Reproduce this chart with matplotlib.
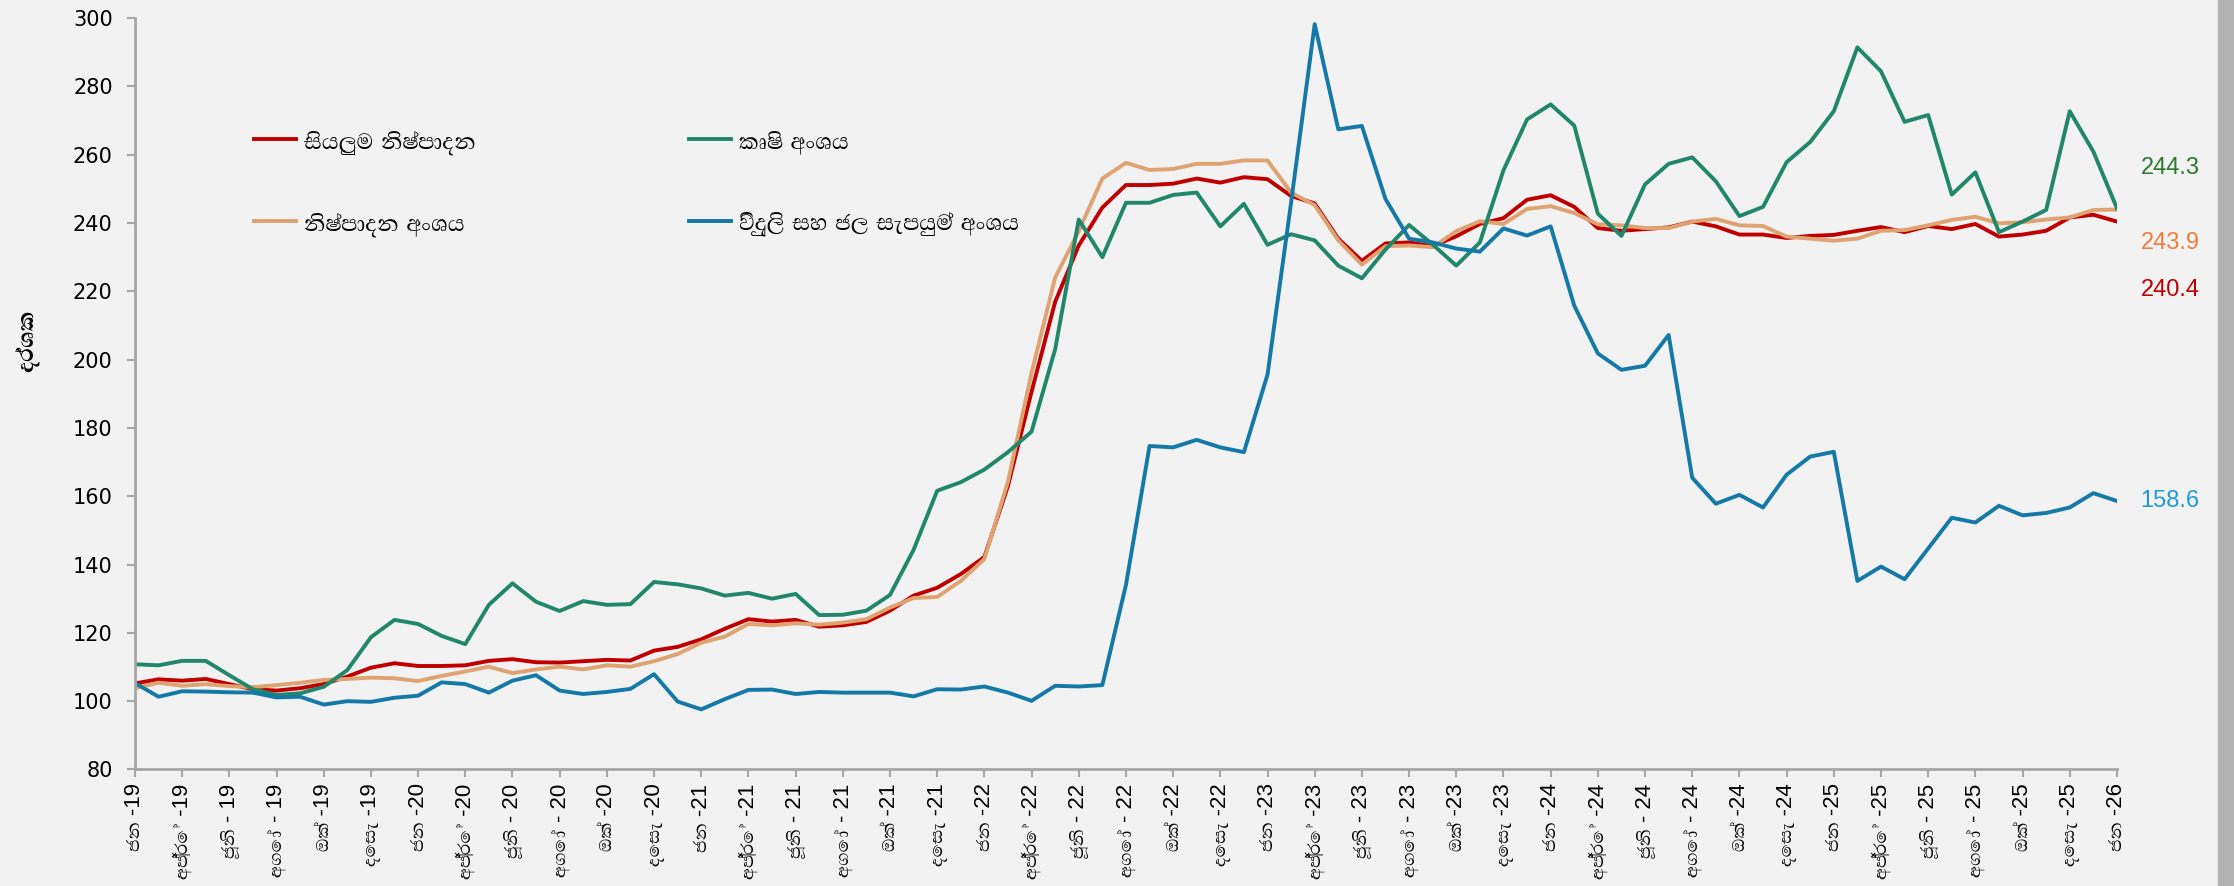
import numpy as np
import matplotlib
matplotlib.use('Agg')
import matplotlib.pyplot as plt
import matplotlib.font_manager as fm
from matplotlib.ft2font import FT2Font

# monthly index values, Jan-2019 .. Jan-2026
all_sectors = [105.2, 106.4, 106.0, 106.5, 105.0, 103.5, 103.1, 103.8, 105.0, 107.2, 109.8, 111.1,
               110.3, 110.3, 110.5, 111.8, 112.3, 111.4, 111.3, 111.7, 112.1, 111.9, 114.8, 115.9,
               118.1, 121.2, 124.0, 123.3, 123.8, 121.8, 122.2, 123.2, 126.5, 130.9, 133.2, 137.2,
               142.2, 163.0, 190.6, 216.9, 233.4, 244.5, 251.1, 251.1, 251.5, 253.0, 251.8, 253.4,
               252.8, 247.9, 245.7, 235.4, 228.9, 234.0, 234.3, 233.2, 236.1, 239.7, 241.4, 246.8,
               248.1, 244.7, 238.5, 237.7, 238.2, 238.7, 240.4, 239.0, 236.6, 236.6, 235.6, 236.2,
               236.5, 237.7, 238.8, 237.3, 239.1, 238.2, 239.7, 236.0, 236.6, 237.7, 241.6, 242.4,
               240.4]
manufacturing = [103.8, 105.4, 104.5, 105.0, 104.4, 104.1, 104.7, 105.4, 106.2, 106.5, 106.9, 106.7,
                 105.9, 107.4, 108.7, 110.1, 108.2, 109.3, 110.1, 109.3, 110.5, 110.1, 111.7, 113.8,
                 117.1, 118.9, 122.6, 122.2, 122.8, 122.4, 123.0, 124.0, 127.4, 130.2, 130.5, 135.2,
                 141.6, 164.3, 196.1, 224.0, 237.6, 253.0, 257.6, 255.5, 255.8, 257.3, 257.3, 258.3,
                 258.3, 248.9, 245.2, 234.9, 227.8, 233.2, 233.4, 232.9, 237.6, 240.5, 239.7, 244.1,
                 244.9, 242.9, 239.6, 239.3, 238.5, 238.5, 240.4, 241.2, 239.3, 239.1, 236.0, 235.4,
                 234.8, 235.4, 237.7, 237.9, 239.3, 240.9, 241.8, 239.9, 240.2, 241.0, 241.6, 243.8,
                 243.9]
agriculture = [110.8, 110.5, 111.8, 111.8, 107.6, 103.5, 101.8, 102.3, 104.2, 109.1, 118.7, 123.8,
               122.6, 119.1, 116.7, 128.2, 134.5, 129.1, 126.4, 129.3, 128.2, 128.4, 134.9, 134.2,
               133.0, 130.9, 131.7, 130.0, 131.4, 125.2, 125.3, 126.5, 131.1, 144.3, 161.6, 164.1,
               167.8, 172.9, 178.9, 203.0, 241.0, 230.0, 245.9, 245.9, 248.2, 248.9, 239.0, 245.6,
               233.6, 236.7, 234.9, 227.5, 223.8, 232.2, 239.4, 233.7, 227.5, 234.3, 255.4, 270.3,
               274.7, 268.5, 242.7, 236.2, 251.3, 257.3, 259.2, 252.2, 242.0, 244.7, 257.8, 263.7,
               272.7, 291.4, 284.4, 269.6, 271.6, 248.3, 254.8, 237.3, 240.4, 243.8, 272.7, 260.9,
               244.3]
electricity_water = [105.3, 101.3, 102.9, 102.8, 102.6, 102.5, 101.1, 101.3, 99.0, 100.0, 99.8, 101.0,
                     101.6, 105.5, 105.0, 102.5, 106.0, 107.6, 103.1, 102.1, 102.7, 103.6, 107.9, 99.9,
                     97.6, 100.6, 103.3, 103.4, 102.1, 102.7, 102.5, 102.5, 102.5, 101.4, 103.5, 103.4,
                     104.3, 102.5, 100.1, 104.5, 104.3, 104.7, 134.0, 174.7, 174.3, 176.5, 174.3, 172.9,
                     195.6, 246.0, 298.2, 267.4, 268.4, 247.0, 235.4, 234.3, 232.5, 231.6, 238.4, 236.3,
                     239.0, 215.8, 201.8, 197.0, 198.2, 207.2, 165.4, 157.8, 160.4, 156.7, 166.3, 171.6,
                     173.0, 135.2, 139.4, 135.7, 144.7, 153.7, 152.3, 157.2, 154.4, 155.1, 156.7, 160.9,
                     158.6]

series_names = ['සියලුම නිෂ්පාදන', 'නිෂ්පාදන අංශය', 'කෘෂි අංශය', 'විදුලි සහ ජල සැපයුම් අංශය']
line_colors = ['#c00000', '#dfa271', '#21876a', '#1479a6']
end_colors = ['#c00000', '#ef7d3c', '#2b7a2e', '#1d9bd7']
end_offsets = [-49, -24, 29, 0]   # points, keeps the end labels apart

tick_months = ['ජන', 'අප්\u200dරේ', 'ජූනි', 'අගෝ', 'ඔක්', 'දෙසැ']
tick_seps = [' -', ' -', ' - ', ' - ', ' -', ' -']
tick_years = ['19', '20', '21', '22', '23', '24', '25', '26']

# pick an installed font that has Sinhala glyphs
sinhala = set()
for f in fm.fontManager.ttflist:
    try:
        if 0x0DA2 in FT2Font(f.fname).get_charmap():
            sinhala.add(f.name)
    except Exception:
        pass
si_font = None
for name in ['Iskoola Pota', 'Abhaya Libre', 'Noto Serif Sinhala', 'Noto Sans Sinhala']:
    if name in sinhala:
        si_font = name
        break
if si_font is None and sinhala:
    si_font = sorted(sinhala)[0]
families = ['Liberation Sans'] + ([si_font] if si_font else []) + ['DejaVu Sans']
plt.rcParams['font.family'] = families

bg = '#f2f2f2'
axis_grey = '#a6a6a6'

fig = plt.figure(figsize=(22.34, 8.86), dpi=100, facecolor=bg)
ax = fig.add_axes([0.0604, 0.1315, 0.8872, 0.8482], facecolor=bg)

x = np.arange(len(all_sectors))
data = [all_sectors, manufacturing, agriculture, electricity_water]
for vals, name, col in zip(data, series_names, line_colors):
    ax.plot(x, vals, color=col, lw=2.8, label=name)

for vals, col, dy in zip(data, end_colors, end_offsets):
    ax.annotate('%.1f' % vals[-1], xy=(x[-1], vals[-1]), xytext=(17, dy),
                textcoords='offset points', color=col, fontsize=17,
                va='center', ha='left', annotation_clip=False)

# tick labels every second month
labels = []
for i in range(0, len(x), 2):
    k = (i // 2) % 6
    labels.append(tick_months[k] + tick_seps[k] + tick_years[i // 12])
ax.set_xticks(x[::2])
ax.set_xticklabels(labels, rotation=90, fontsize=16)
ax.set_xlim(0, x[-1])
ax.set_ylim(80, 300)
ax.set_yticks(np.arange(80, 301, 20))
ax.tick_params(axis='y', labelsize=15, length=6, width=1.5, color=axis_grey, pad=10)
ax.tick_params(axis='x', length=6, width=1.5, color=axis_grey, pad=4)
for t in ax.get_yticklabels():
    t.set_family('DejaVu Sans')
for s in ['top', 'right']:
    ax.spines[s].set_visible(False)
for s in ['left', 'bottom']:
    ax.spines[s].set_color(axis_grey)
    ax.spines[s].set_linewidth(2)

ax.set_ylabel('දර්ශක', fontsize=20, fontweight='bold')
ax.yaxis.set_label_coords(-0.048, 0.57)

ax.legend(ncol=2, frameon=False, loc='upper left', bbox_to_anchor=(0.06, 0.852),
          fontsize=20, handlelength=1.5, handletextpad=0.3, columnspacing=7.7,
          labelspacing=2.0, borderpad=0, borderaxespad=0)

# grey strip on the right edge
fig.patches.append(plt.Rectangle((0.9928, 0), 0.0072, 1, transform=fig.transFigure,
                                 color='#b3b3b3', zorder=0))

fig.savefig('out.png', dpi=100, facecolor=bg)
